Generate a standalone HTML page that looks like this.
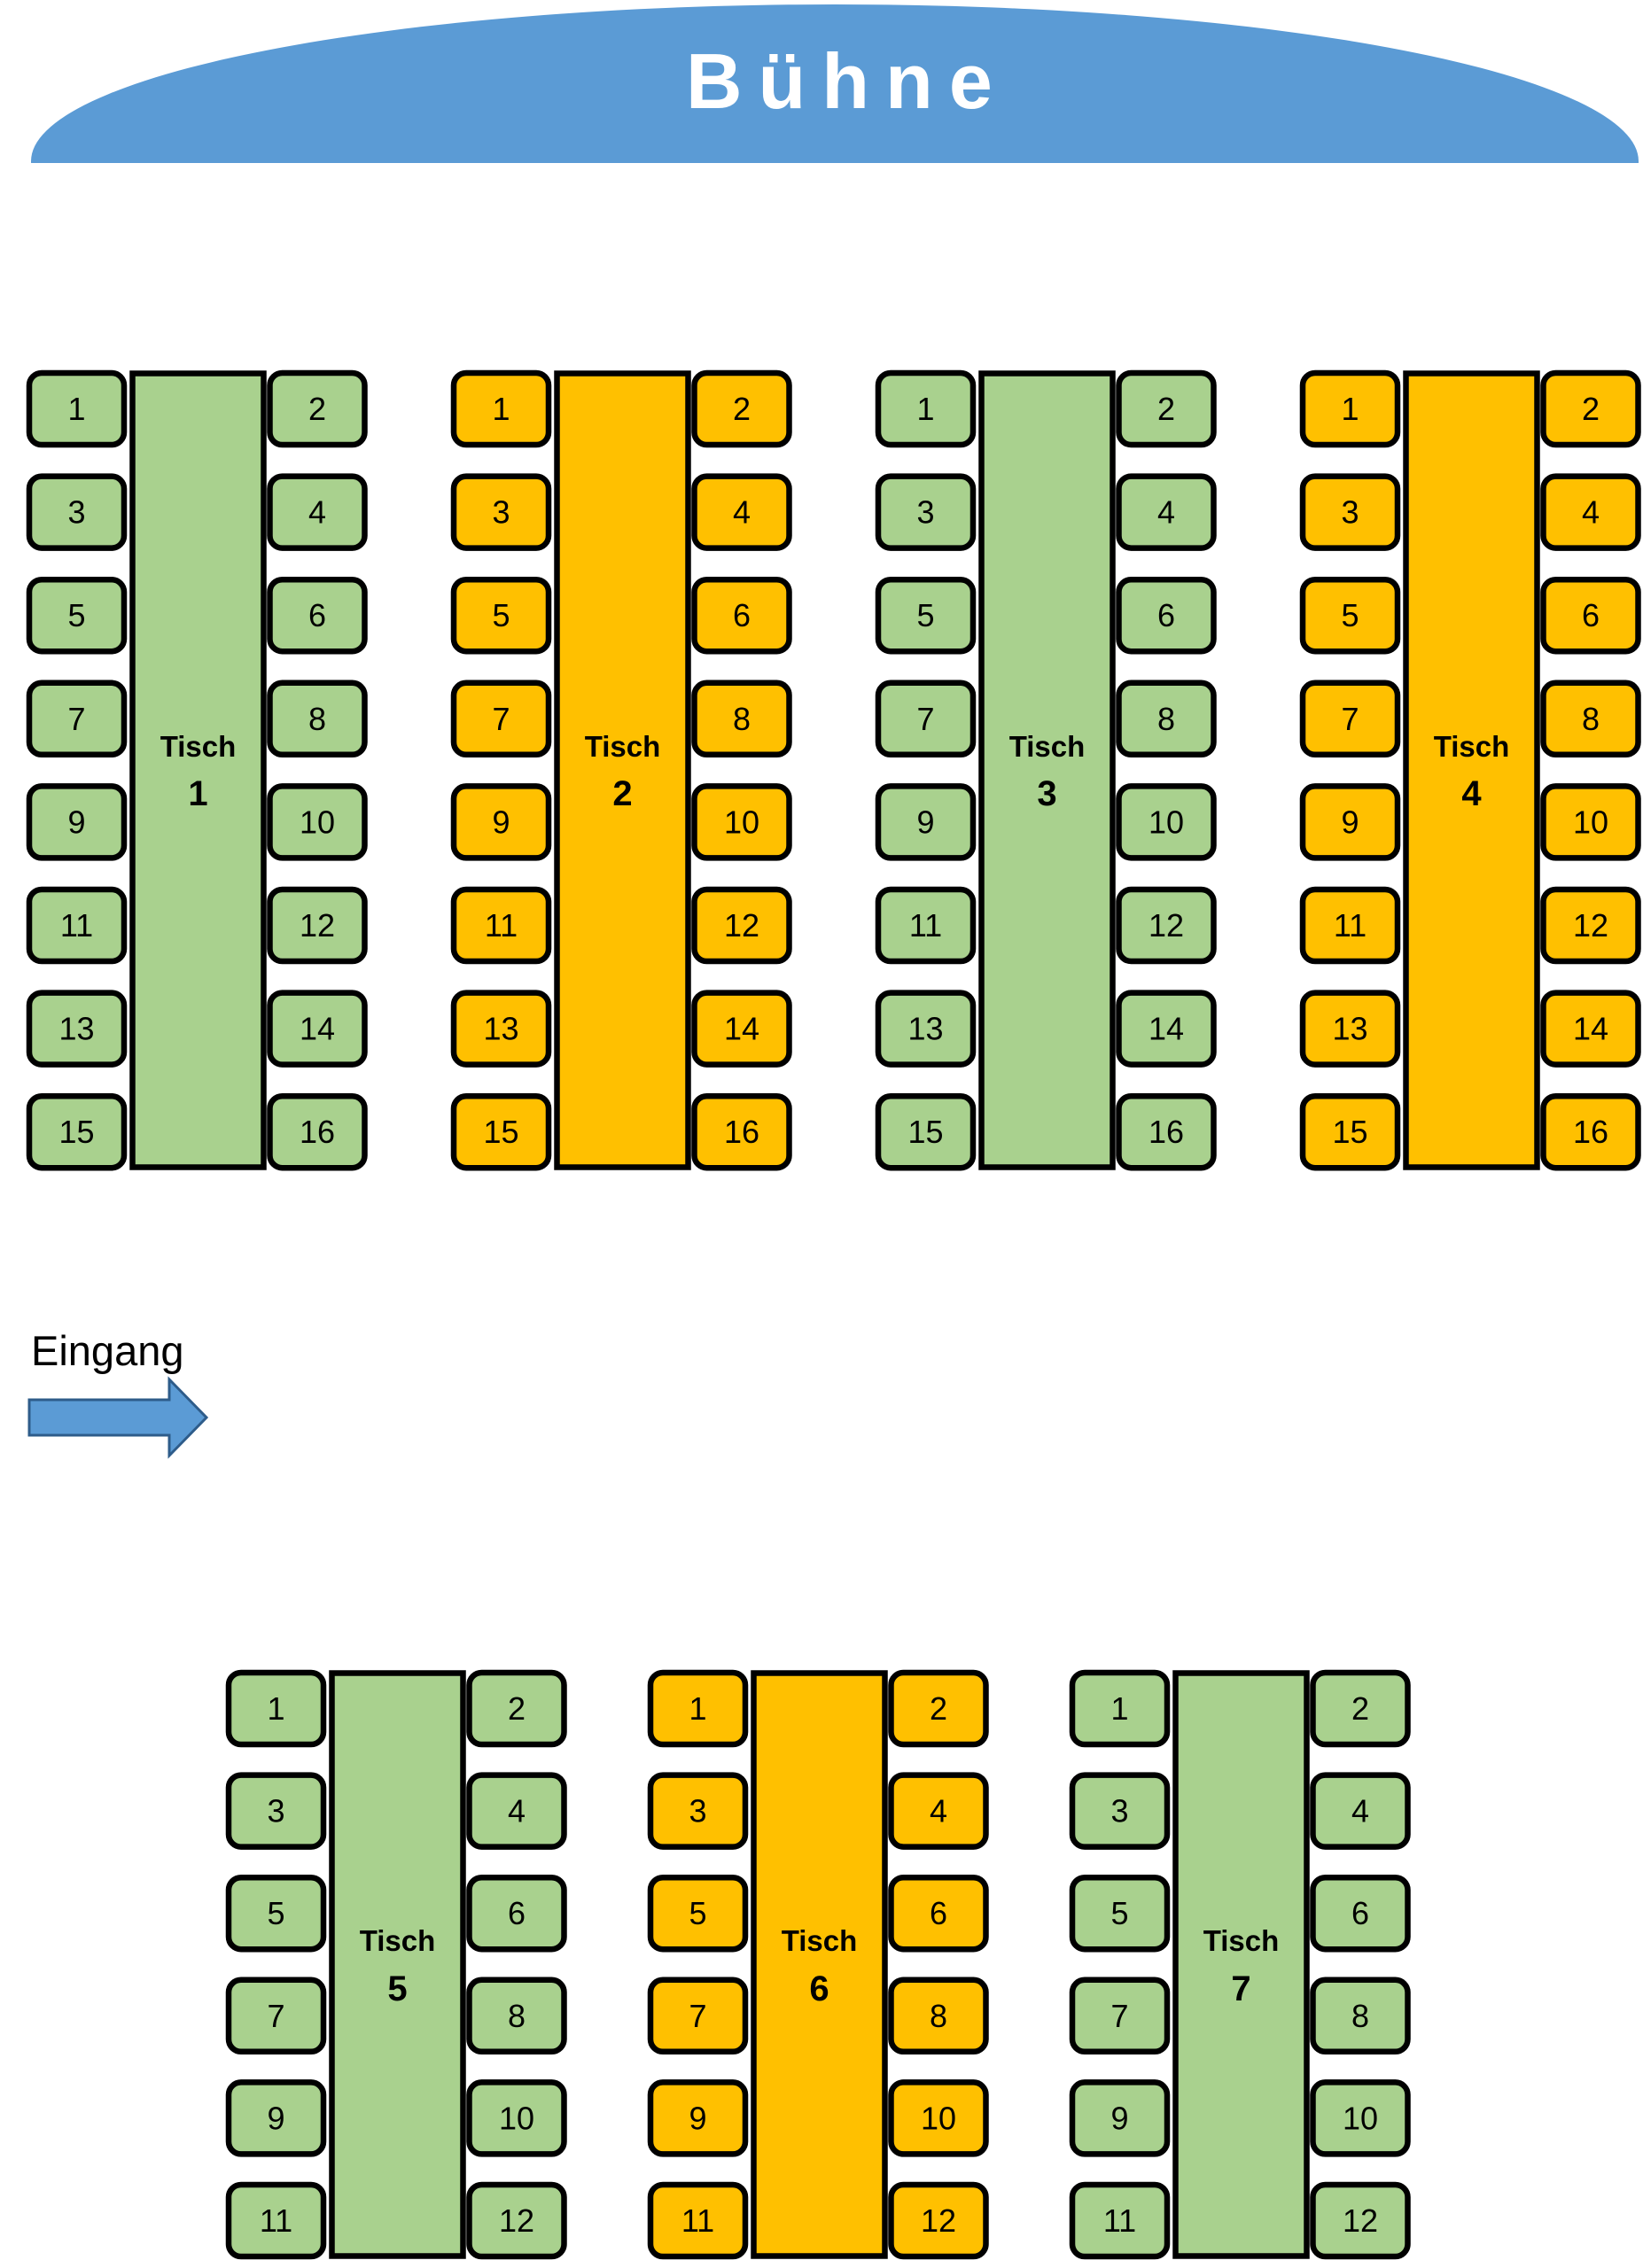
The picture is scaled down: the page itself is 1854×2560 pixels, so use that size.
<!DOCTYPE html>
<html><head><meta charset="utf-8"><style>
html,body{margin:0;padding:0;background:#fff;}
svg{display:block;}
.s{stroke:#000;stroke-width:6.5;}
.g{fill:#A9D18E;}
.o{fill:#FFC000;}
.n{font-family:"Liberation Sans",sans-serif;font-size:36px;fill:#000;text-anchor:middle;}
.t{font-family:"Liberation Sans",sans-serif;font-size:33px;font-weight:bold;fill:#000;text-anchor:middle;}
.tn{font-family:"Liberation Sans",sans-serif;font-size:40px;font-weight:bold;fill:#000;text-anchor:middle;}
</style></head><body>
<svg width="1854" height="2560" viewBox="0 0 1854 2560" xmlns="http://www.w3.org/2000/svg">
<defs>
<clipPath id="cp"><rect x="0" y="0" width="1854" height="184"/></clipPath>
<rect id="seat" x="3" y="3" width="107" height="81" rx="14" ry="14"/>
</defs>
<ellipse cx="942" cy="182" rx="907" ry="177" fill="#5B9BD5" clip-path="url(#cp)"/>
<text x="774" y="122" font-family="Liberation Sans, sans-serif" font-size="88" font-weight="bold" fill="#fff" letter-spacing="18">Bühne</text>

<text x="35" y="1541" font-family="Liberation Sans, sans-serif" font-size="47" fill="#000">Eingang</text>
<polygon points="33,1580 191,1580 191,1557 233,1600 191,1643 191,1620 33,1620" fill="#5B9BD5" stroke="#2E5C8A" stroke-width="3"/>

<g transform="translate(30,418)">
<rect x="119.5" y="3.5" width="148" height="896" class="s g"/>
<g class="s g"><use href="#seat" x="0" y="0"/><use href="#seat" x="271.5" y="0"/><use href="#seat" x="0" y="116.6"/><use href="#seat" x="271.5" y="116.6"/><use href="#seat" x="0" y="233.2"/><use href="#seat" x="271.5" y="233.2"/><use href="#seat" x="0" y="349.8"/><use href="#seat" x="271.5" y="349.8"/><use href="#seat" x="0" y="466.4"/><use href="#seat" x="271.5" y="466.4"/><use href="#seat" x="0" y="583"/><use href="#seat" x="271.5" y="583"/><use href="#seat" x="0" y="699.6"/><use href="#seat" x="271.5" y="699.6"/><use href="#seat" x="0" y="816.2"/><use href="#seat" x="271.5" y="816.2"/></g>
<text class="n" x="56.5" y="56">1</text><text class="n" x="328" y="56">2</text>
<text class="n" x="56.5" y="172.6">3</text><text class="n" x="328" y="172.6">4</text>
<text class="n" x="56.5" y="289.2">5</text><text class="n" x="328" y="289.2">6</text>
<text class="n" x="56.5" y="405.8">7</text><text class="n" x="328" y="405.8">8</text>
<text class="n" x="56.5" y="522.4">9</text><text class="n" x="328" y="522.4">10</text>
<text class="n" x="56.5" y="639">11</text><text class="n" x="328" y="639">12</text>
<text class="n" x="56.5" y="755.6">13</text><text class="n" x="328" y="755.6">14</text>
<text class="n" x="56.5" y="872.2">15</text><text class="n" x="328" y="872.2">16</text>
<text class="t" x="193.5" y="436">Tisch</text><text class="tn" x="193.5" y="491">1</text>
</g>

<g transform="translate(509,418)">
<rect x="119.5" y="3.5" width="148" height="896" class="s o"/>
<g class="s o"><use href="#seat" x="0" y="0"/><use href="#seat" x="271.5" y="0"/><use href="#seat" x="0" y="116.6"/><use href="#seat" x="271.5" y="116.6"/><use href="#seat" x="0" y="233.2"/><use href="#seat" x="271.5" y="233.2"/><use href="#seat" x="0" y="349.8"/><use href="#seat" x="271.5" y="349.8"/><use href="#seat" x="0" y="466.4"/><use href="#seat" x="271.5" y="466.4"/><use href="#seat" x="0" y="583"/><use href="#seat" x="271.5" y="583"/><use href="#seat" x="0" y="699.6"/><use href="#seat" x="271.5" y="699.6"/><use href="#seat" x="0" y="816.2"/><use href="#seat" x="271.5" y="816.2"/></g>
<text class="n" x="56.5" y="56">1</text><text class="n" x="328" y="56">2</text>
<text class="n" x="56.5" y="172.6">3</text><text class="n" x="328" y="172.6">4</text>
<text class="n" x="56.5" y="289.2">5</text><text class="n" x="328" y="289.2">6</text>
<text class="n" x="56.5" y="405.8">7</text><text class="n" x="328" y="405.8">8</text>
<text class="n" x="56.5" y="522.4">9</text><text class="n" x="328" y="522.4">10</text>
<text class="n" x="56.5" y="639">11</text><text class="n" x="328" y="639">12</text>
<text class="n" x="56.5" y="755.6">13</text><text class="n" x="328" y="755.6">14</text>
<text class="n" x="56.5" y="872.2">15</text><text class="n" x="328" y="872.2">16</text>
<text class="t" x="193.5" y="436">Tisch</text><text class="tn" x="193.5" y="491">2</text>
</g>

<g transform="translate(988,418)">
<rect x="119.5" y="3.5" width="148" height="896" class="s g"/>
<g class="s g"><use href="#seat" x="0" y="0"/><use href="#seat" x="271.5" y="0"/><use href="#seat" x="0" y="116.6"/><use href="#seat" x="271.5" y="116.6"/><use href="#seat" x="0" y="233.2"/><use href="#seat" x="271.5" y="233.2"/><use href="#seat" x="0" y="349.8"/><use href="#seat" x="271.5" y="349.8"/><use href="#seat" x="0" y="466.4"/><use href="#seat" x="271.5" y="466.4"/><use href="#seat" x="0" y="583"/><use href="#seat" x="271.5" y="583"/><use href="#seat" x="0" y="699.6"/><use href="#seat" x="271.5" y="699.6"/><use href="#seat" x="0" y="816.2"/><use href="#seat" x="271.5" y="816.2"/></g>
<text class="n" x="56.5" y="56">1</text><text class="n" x="328" y="56">2</text>
<text class="n" x="56.5" y="172.6">3</text><text class="n" x="328" y="172.6">4</text>
<text class="n" x="56.5" y="289.2">5</text><text class="n" x="328" y="289.2">6</text>
<text class="n" x="56.5" y="405.8">7</text><text class="n" x="328" y="405.8">8</text>
<text class="n" x="56.5" y="522.4">9</text><text class="n" x="328" y="522.4">10</text>
<text class="n" x="56.5" y="639">11</text><text class="n" x="328" y="639">12</text>
<text class="n" x="56.5" y="755.6">13</text><text class="n" x="328" y="755.6">14</text>
<text class="n" x="56.5" y="872.2">15</text><text class="n" x="328" y="872.2">16</text>
<text class="t" x="193.5" y="436">Tisch</text><text class="tn" x="193.5" y="491">3</text>
</g>

<g transform="translate(1467,418)">
<rect x="119.5" y="3.5" width="148" height="896" class="s o"/>
<g class="s o"><use href="#seat" x="0" y="0"/><use href="#seat" x="271.5" y="0"/><use href="#seat" x="0" y="116.6"/><use href="#seat" x="271.5" y="116.6"/><use href="#seat" x="0" y="233.2"/><use href="#seat" x="271.5" y="233.2"/><use href="#seat" x="0" y="349.8"/><use href="#seat" x="271.5" y="349.8"/><use href="#seat" x="0" y="466.4"/><use href="#seat" x="271.5" y="466.4"/><use href="#seat" x="0" y="583"/><use href="#seat" x="271.5" y="583"/><use href="#seat" x="0" y="699.6"/><use href="#seat" x="271.5" y="699.6"/><use href="#seat" x="0" y="816.2"/><use href="#seat" x="271.5" y="816.2"/></g>
<text class="n" x="56.5" y="56">1</text><text class="n" x="328" y="56">2</text>
<text class="n" x="56.5" y="172.6">3</text><text class="n" x="328" y="172.6">4</text>
<text class="n" x="56.5" y="289.2">5</text><text class="n" x="328" y="289.2">6</text>
<text class="n" x="56.5" y="405.8">7</text><text class="n" x="328" y="405.8">8</text>
<text class="n" x="56.5" y="522.4">9</text><text class="n" x="328" y="522.4">10</text>
<text class="n" x="56.5" y="639">11</text><text class="n" x="328" y="639">12</text>
<text class="n" x="56.5" y="755.6">13</text><text class="n" x="328" y="755.6">14</text>
<text class="n" x="56.5" y="872.2">15</text><text class="n" x="328" y="872.2">16</text>
<text class="t" x="193.5" y="436">Tisch</text><text class="tn" x="193.5" y="491">4</text>
</g>

<g transform="translate(255,1885)">
<rect x="119.5" y="3.5" width="148" height="658" class="s g"/>
<g class="s g"><use href="#seat" x="0" y="0"/><use href="#seat" x="271.5" y="0"/><use href="#seat" x="0" y="115.6"/><use href="#seat" x="271.5" y="115.6"/><use href="#seat" x="0" y="231.2"/><use href="#seat" x="271.5" y="231.2"/><use href="#seat" x="0" y="346.8"/><use href="#seat" x="271.5" y="346.8"/><use href="#seat" x="0" y="462.4"/><use href="#seat" x="271.5" y="462.4"/><use href="#seat" x="0" y="578"/><use href="#seat" x="271.5" y="578"/></g>
<text class="n" x="56.5" y="56">1</text><text class="n" x="328" y="56">2</text>
<text class="n" x="56.5" y="171.6">3</text><text class="n" x="328" y="171.6">4</text>
<text class="n" x="56.5" y="287.2">5</text><text class="n" x="328" y="287.2">6</text>
<text class="n" x="56.5" y="402.8">7</text><text class="n" x="328" y="402.8">8</text>
<text class="n" x="56.5" y="518.4">9</text><text class="n" x="328" y="518.4">10</text>
<text class="n" x="56.5" y="634">11</text><text class="n" x="328" y="634">12</text>
<text class="t" x="193.5" y="317">Tisch</text><text class="tn" x="193.5" y="373">5</text>
</g>

<g transform="translate(731,1885)">
<rect x="119.5" y="3.5" width="148" height="658" class="s o"/>
<g class="s o"><use href="#seat" x="0" y="0"/><use href="#seat" x="271.5" y="0"/><use href="#seat" x="0" y="115.6"/><use href="#seat" x="271.5" y="115.6"/><use href="#seat" x="0" y="231.2"/><use href="#seat" x="271.5" y="231.2"/><use href="#seat" x="0" y="346.8"/><use href="#seat" x="271.5" y="346.8"/><use href="#seat" x="0" y="462.4"/><use href="#seat" x="271.5" y="462.4"/><use href="#seat" x="0" y="578"/><use href="#seat" x="271.5" y="578"/></g>
<text class="n" x="56.5" y="56">1</text><text class="n" x="328" y="56">2</text>
<text class="n" x="56.5" y="171.6">3</text><text class="n" x="328" y="171.6">4</text>
<text class="n" x="56.5" y="287.2">5</text><text class="n" x="328" y="287.2">6</text>
<text class="n" x="56.5" y="402.8">7</text><text class="n" x="328" y="402.8">8</text>
<text class="n" x="56.5" y="518.4">9</text><text class="n" x="328" y="518.4">10</text>
<text class="n" x="56.5" y="634">11</text><text class="n" x="328" y="634">12</text>
<text class="t" x="193.5" y="317">Tisch</text><text class="tn" x="193.5" y="373">6</text>
</g>

<g transform="translate(1207,1885)">
<rect x="119.5" y="3.5" width="148" height="658" class="s g"/>
<g class="s g"><use href="#seat" x="0" y="0"/><use href="#seat" x="271.5" y="0"/><use href="#seat" x="0" y="115.6"/><use href="#seat" x="271.5" y="115.6"/><use href="#seat" x="0" y="231.2"/><use href="#seat" x="271.5" y="231.2"/><use href="#seat" x="0" y="346.8"/><use href="#seat" x="271.5" y="346.8"/><use href="#seat" x="0" y="462.4"/><use href="#seat" x="271.5" y="462.4"/><use href="#seat" x="0" y="578"/><use href="#seat" x="271.5" y="578"/></g>
<text class="n" x="56.5" y="56">1</text><text class="n" x="328" y="56">2</text>
<text class="n" x="56.5" y="171.6">3</text><text class="n" x="328" y="171.6">4</text>
<text class="n" x="56.5" y="287.2">5</text><text class="n" x="328" y="287.2">6</text>
<text class="n" x="56.5" y="402.8">7</text><text class="n" x="328" y="402.8">8</text>
<text class="n" x="56.5" y="518.4">9</text><text class="n" x="328" y="518.4">10</text>
<text class="n" x="56.5" y="634">11</text><text class="n" x="328" y="634">12</text>
<text class="t" x="193.5" y="317">Tisch</text><text class="tn" x="193.5" y="373">7</text>
</g>
</svg>
</body></html>
